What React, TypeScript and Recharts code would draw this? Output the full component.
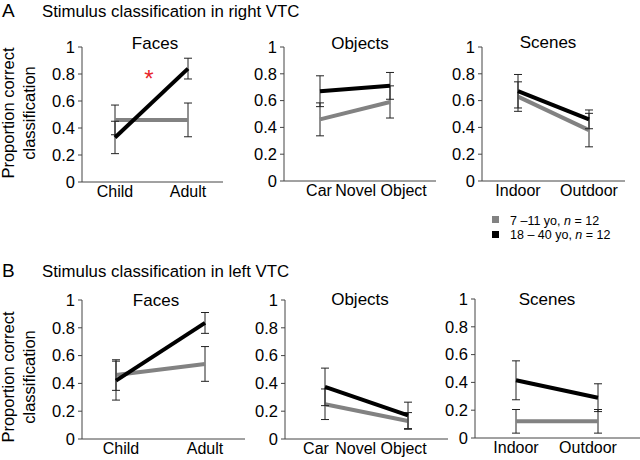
import React from "react";
import { LineChart, Line, XAxis, YAxis, ErrorBar } from "recharts";

// ---- data ----
const groupLabels = ["7 \u201311 yo, ", "18 \u2013 40 yo, "];
const faceCats = ["Child", "Adult"];
const objectCats = ["Car", "Novel Object"];
const sceneCats = ["Indoor", "Outdoor"];
const yTicks = [0, 0.2, 0.4, 0.6, 0.8, 1];

// Right VTC
const rightFacesKids = [0.46, 0.46];
const rightFacesKidsErr = [0.11, 0.125];
const rightFacesAdults = [0.33, 0.84];
const rightFacesAdultsErr = [0.12, 0.077];

const rightObjectsKids = [0.46, 0.59];
const rightObjectsKidsErr = [0.123, 0.12];
const rightObjectsAdults = [0.67, 0.71];
const rightObjectsAdultsErr = [0.115, 0.1];

const rightScenesKids = [0.63, 0.38];
const rightScenesKidsErr = [0.11, 0.125];
const rightScenesAdults = [0.67, 0.46];
const rightScenesAdultsErr = [0.125, 0.07];

// Left VTC
const leftFacesKids = [0.46, 0.54];
const leftFacesKidsErr = [0.11, 0.125];
const leftFacesAdults = [0.42, 0.835];
const leftFacesAdultsErr = [0.14, 0.075];

const leftObjectsKids = [0.25, 0.13];
const leftObjectsKidsErr = [0.11, 0.06];
const leftObjectsAdults = [0.375, 0.17];
const leftObjectsAdultsErr = [0.135, 0.095];

const leftScenesKids = [0.12, 0.12];
const leftScenesKidsErr = [0.085, 0.085];
const leftScenesAdults = [0.415, 0.29];
const leftScenesAdultsErr = [0.14, 0.1];

const build = (cats, kids, kidsErr, adults, adultsErr) =>
  cats.map((c, i) => ({
    cat: c,
    kids: kids[i],
    kidsErr: kidsErr[i],
    adults: adults[i],
    adultsErr: adultsErr[i],
  }));

const FONT = "'Liberation Sans', Arial, Helvetica, sans-serif";
const GRAY = "#828282";
const AXIS = "#444";

const panels = [
  { title: "Faces", titleX: 155, titleY: 49, cats: faceCats,
    data: build(faceCats, rightFacesKids, rightFacesKidsErr, rightFacesAdults, rightFacesAdultsErr),
    axisX: 82, xEnd: 223, y1: 47, y0: 182, p1: 115, p2: 188, shifts: [0, 0] },
  { title: "Objects", titleX: 360, titleY: 49, cats: objectCats,
    data: build(objectCats, rightObjectsKids, rightObjectsKidsErr, rightObjectsAdults, rightObjectsAdultsErr),
    axisX: 284, xEnd: 436, y1: 47, y0: 181, p1: 320, p2: 390, shifts: [-1, -9] },
  { title: "Scenes", titleX: 548, titleY: 48, cats: sceneCats,
    data: build(sceneCats, rightScenesKids, rightScenesKidsErr, rightScenesAdults, rightScenesAdultsErr),
    axisX: 482, xEnd: 625, y1: 47, y0: 181, p1: 518, p2: 589, shifts: [0, 0] },
  { title: "Faces", titleX: 156, titleY: 306, cats: faceCats,
    data: build(faceCats, leftFacesKids, leftFacesKidsErr, leftFacesAdults, leftFacesAdultsErr),
    axisX: 82, xEnd: 245, y1: 300, y0: 439, p1: 116, p2: 205, shifts: [5, 0] },
  { title: "Objects", titleX: 360, titleY: 305, cats: objectCats,
    data: build(objectCats, leftObjectsKids, leftObjectsKidsErr, leftObjectsAdults, leftObjectsAdultsErr),
    axisX: 285, xEnd: 448, y1: 300, y0: 439, p1: 325, p2: 408, shifts: [-9, -27] },
  { title: "Scenes", titleX: 547, titleY: 305, cats: sceneCats,
    data: build(sceneCats, leftScenesKids, leftScenesKidsErr, leftScenesAdults, leftScenesAdultsErr),
    axisX: 475, xEnd: 640, y1: 299, y0: 438, p1: 516, p2: 598, shifts: [0, -10] },
];

const makeTick = (cats, shifts) => (props) => {
  const { x, y, payload } = props;
  const i = cats.indexOf(payload.value);
  return (
    <text x={x + (shifts[i] || 0)} y={y} dy="0.71em" textAnchor="middle" fontSize={16} fill="#000" fontFamily={FONT}>
      {payload.value}
    </text>
  );
};

const YW = 60;
const MT = 20;
const XH = 30;
const MR = 40;

const Panel = ({ p }) => {
  const width = p.xEnd - p.axisX + YW + MR;
  const height = p.y0 - p.y1 + MT + XH;
  return (
    <div style={{ position: "absolute", left: p.axisX - YW, top: p.y1 - MT, width, height }}>
      <LineChart width={width} height={height} data={p.data} margin={{ top: MT, right: MR, bottom: 0, left: 0 }}>
        <XAxis
          dataKey="cat"
          height={XH}
          tickLine={false}
          tickSize={0}
          tickMargin={4}
          interval={0}
          axisLine={{ stroke: AXIS, strokeWidth: 1 }}
          padding={{ left: p.p1 - p.axisX, right: p.xEnd - p.p2 }}
          tick={makeTick(p.cats, p.shifts)}
        />
        <YAxis
          width={YW}
          domain={[0, 1]}
          ticks={yTicks}
          tickSize={4}
          tickMargin={3}
          interval={0}
          axisLine={{ stroke: AXIS, strokeWidth: 1 }}
          tickLine={{ stroke: AXIS, strokeWidth: 1 }}
          tick={{ fontSize: 16.5, fill: "#000", fontFamily: FONT }}
          tickFormatter={(v) => String(v)}
        />
        <Line type="linear" dataKey="kids" stroke={GRAY} strokeWidth={4} dot={false} isAnimationActive={false}>
          <ErrorBar dataKey="kidsErr" width={4} stroke="#222" strokeWidth={1} direction="y" />
        </Line>
        <Line type="linear" dataKey="adults" stroke="#000" strokeWidth={4} dot={false} isAnimationActive={false}>
          <ErrorBar dataKey="adultsErr" width={4} stroke="#222" strokeWidth={1} direction="y" />
        </Line>
      </LineChart>
    </div>
  );
};

export default function App() {
  return (
    <div style={{ position: "absolute", left: 0, top: 0, width: 640, height: 460, overflow: "hidden", background: "#fff", fontFamily: FONT }}>
      {panels.map((p, i) => (
        <Panel key={i} p={p} />
      ))}
      <svg width={640} height={460} style={{ position: "absolute", left: 0, top: 0, pointerEvents: "none" }} fontFamily={FONT}>
        <text x={2} y={17} fontSize={19} fill="#000">A</text>
        <text x={42} y={17} fontSize={16.8} fill="#000">Stimulus classification in right VTC</text>
        <text x={2} y={277} fontSize={19} fill="#000">B</text>
        <text x={42} y={277} fontSize={16.8} fill="#000">Stimulus classification in left VTC</text>
        {panels.map((p, i) => (
          <text key={i} x={p.titleX} y={p.titleY} fontSize={17} textAnchor="middle" fill="#000">{p.title}</text>
        ))}
        {[113, 377].map((cy, i) => (
          <g key={i}>
            <text x={14} y={cy} fontSize={16.5} textAnchor="middle" fill="#000" transform={`rotate(-90, 14, ${cy})`}>Proportion correct</text>
            <text x={35} y={cy} fontSize={16.5} textAnchor="middle" fill="#000" transform={`rotate(-90, 35, ${cy})`}>classification</text>
          </g>
        ))}
        <text x={149} y={87} fontSize={24} textAnchor="middle" fill="#e8262b">*</text>
        <rect x={492} y={216} width={7} height={7} fill={GRAY} />
        <rect x={492} y={231} width={7} height={7} fill="#000" />
        <text x={510} y={225} fontSize={12.5} fill="#000">
          {groupLabels[0]}<tspan fontStyle="italic">n</tspan> = 12
        </text>
        <text x={510} y={239} fontSize={12.5} fill="#000">
          {groupLabels[1]}<tspan fontStyle="italic">n</tspan> = 12
        </text>
      </svg>
    </div>
  );
}
